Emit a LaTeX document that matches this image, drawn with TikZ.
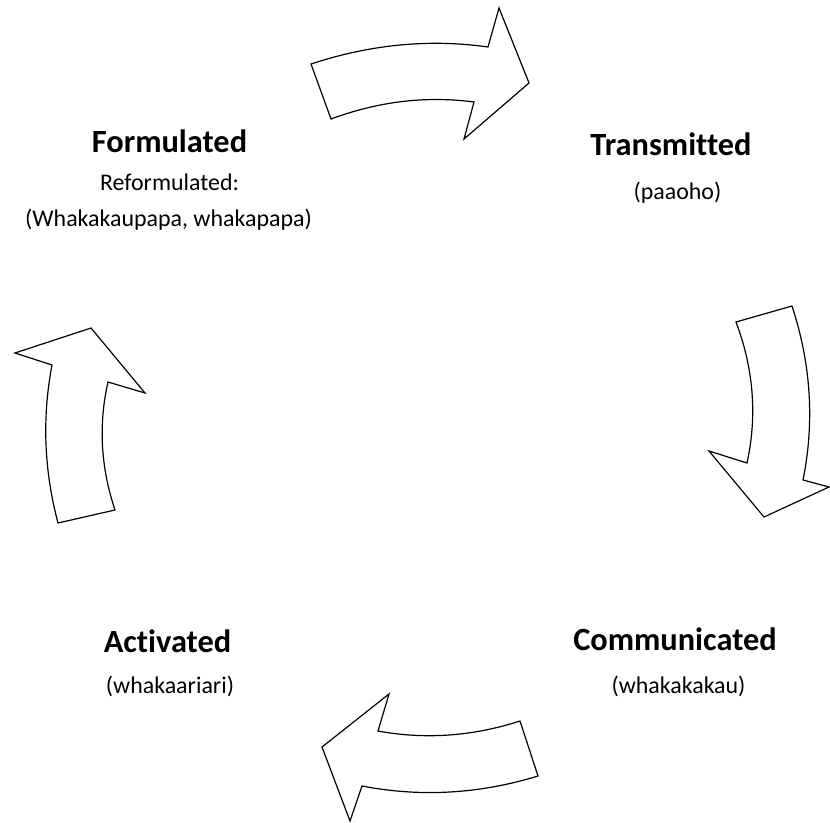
\documentclass[tikz,border=0pt]{standalone}
\usepackage{fontspec}
\setmainfont{Carlito}[Ligatures=CommonOff]
\tikzset{
  blockarrow/.style={draw=black,line width=1.2bp,line join=miter,fill=white},
  stagetitle/.style={anchor=base,inner sep=0pt,font=\fontsize{32.5}{38}\selectfont\bfseries},
  stagenote/.style={anchor=base,inner sep=0pt,font=\fontsize{24}{29}\selectfont},
}
\begin{document}
\begin{tikzpicture}[x=1bp,y=-1bp]
\useasboundingbox (0,0) rectangle (830,823);
%%
\node (formulated) at (169.5bp,152) [stagetitle] {Formulated};
  \node (formulated_a) at (169.5bp,190) [stagenote] {Reformulated:};
  \node (formulated_b) at (168.5bp,226) [stagenote] {(Whakakaupapa, whakapapa)};
  \node (transmitted) at (671bp,155) [stagetitle] {Transmitted};
  \node (transmitted_a) at (677.5bp,199) [stagenote] {(paaoho)};
  \node (communicated) at (675bp,650) [stagetitle] {Communicated};
  \node (communicated_a) at (678.5bp,693) [stagenote] {(whakakakau)};
  \node (activated) at (167.5bp,652) [stagetitle] {Activated};
  \node (activated_a) at (170bp,693) [stagenote] {(whakaariari)};
%
\draw [blockarrow] (311,64) ..controls (370.7,44.3) and (429.7,38.7) .. (488,47) -- (499,8) -- (529,83)
  -- (464,139) -- (474,102) ..controls (426.3,95.7) and (378.7,101.3) .. (331,119) -- cycle;
\draw [blockarrow] (736,322) -- (792,306) ..controls (811,364) and (814.7,422) .. (803,480) -- (829,487)
  -- (764,517) -- (709,451) -- (747,463) ..controls (757.3,416) and (753.7,369) .. cycle;
\draw [blockarrow] (520,721) -- (538,776) ..controls (479.3,794) and (420.7,797.3) .. (362,786) -- (350,821)
  -- (322,747) -- (389,694) -- (378,731) ..controls (425.3,739.7) and (472.7,736.3) .. cycle;
\draw [blockarrow] (58,523) -- (115,510) ..controls (100.7,467.3) and (98.3,424.7) .. (108,382) -- (145,393)
  -- (91,328) -- (15,353) -- (52,365) ..controls (42,417.7) and (44,470.3) .. cycle;
%
\end{tikzpicture}
\end{document}
